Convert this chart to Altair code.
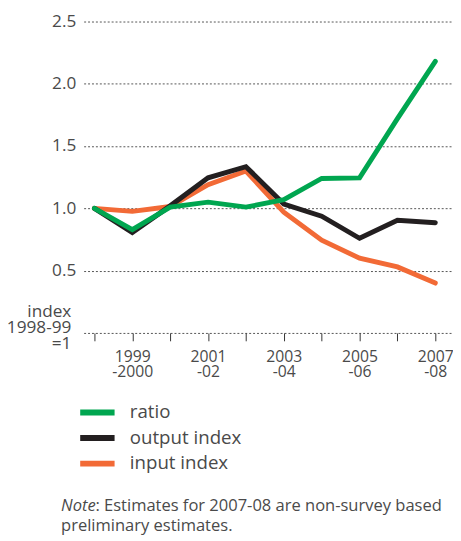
import altair as alt
import pandas as pd

years = ["1998-99", "1999-2000", "2000-01", "2001-02", "2002-03",
         "2003-04", "2004-05", "2005-06", "2006-07", "2007-08"]
ratio = [1.00, 0.83, 1.01, 1.05, 1.01, 1.07, 1.24, 1.245, 1.72, 2.18]
output_index = [1.00, 0.805, 1.02, 1.245, 1.335, 1.035, 0.937, 0.76, 0.905, 0.885]
input_index = [1.00, 0.976, 1.015, 1.19, 1.30, 0.97, 0.745, 0.60, 0.53, 0.40]

series_names = ["ratio", "output index", "input index"]
series_colors = ["#00A650", "#231F20", "#F26A36"]

tick_labels = {1: ["1999", "-2000"], 3: ["2001", "-02"], 5: ["2003", "-04"],
               7: ["2005", "-06"], 9: ["2007", "-08"]}
y_ticks = [0, 0.5, 1.0, 1.5, 2.0, 2.5]
zero_label = ["index", "1998-99", "=1"]

rows = []
for name, vals in zip(series_names, [ratio, output_index, input_index]):
    for i, (yr, v) in enumerate(zip(years, vals)):
        rows.append({"idx": i, "year": yr, "series": name, "value": v})
df = pd.DataFrame(rows)

FONT = "Open Sans"
TXT = "#4a4a4a"

x_expr = " : ".join(
    f"datum.value == {k} ? {v!r}" for k, v in tick_labels.items()
) + " : ''"
y_expr = f"datum.value == 0 ? {zero_label!r} : format(datum.value, '.1f')"

W, H = 376, 317

x_enc = alt.X("idx:Q", scale=alt.Scale(domain=[-0.285, 9.467], nice=False, zero=False),
              axis=alt.Axis(values=list(range(len(years))), labelExpr=x_expr,
                            grid=False, domain=False, tickSize=8, tickColor="#333",
                            tickWidth=1, labelFont=FONT, labelFontSize=16,
                            labelColor=TXT, labelPadding=8, labelLineHeight=15.5,
                            labelFlush=False, labelOverlap=False, title=None))
y_enc = alt.Y("value:Q", scale=alt.Scale(domain=[0, 2.5], nice=False),
              axis=alt.Axis(values=y_ticks, labelExpr=y_expr, grid=True,
                            gridDash=[2, 2], gridColor="#555", gridWidth=1,
                            domain=False, ticks=False, labelFont=FONT,
                            labelFontSize=17.5, labelColor=TXT, labelLineHeight=16.5,
                            labelPadding=alt.ConditionalAxisNumber(
                                condition={"test": "datum.value == 0", "value": 13},
                                value=8),
                            labelOffset=alt.ConditionalAxisNumber(
                                condition={"test": "datum.value == 0", "value": -22},
                                value=0),
                            title=None))
c_enc = alt.Color("series:N",
                  scale=alt.Scale(domain=series_names, range=series_colors),
                  legend=alt.Legend(title=None, orient="none", legendX=1,
                                    legendY=385, symbolType="M-1.75,0H1.75",
                                    symbolStrokeWidth=6, symbolSize=400,
                                    labelFont=FONT, labelFontSize=19,
                                    labelColor=TXT, labelOffset=20,
                                    rowPadding=1))

base = alt.Chart(df).mark_line(strokeWidth=5, strokeCap="round")
layers = [
    base.transform_filter(alt.datum.series == s).encode(x=x_enc, y=y_enc, color=c_enc)
    for s in ["input index", "output index", "ratio"]
]

NOTE_FS = 16.8
note_italic = alt.Chart(pd.DataFrame({"t": ["Note"]})).mark_text(
    font=FONT, fontSize=NOTE_FS, fontStyle="italic", color=TXT, align="left",
    baseline="middle").encode(text="t:N", x=alt.value(-23), y=alt.value(493))
note_rest = alt.Chart(pd.DataFrame({"t": [": Estimates for 2007-08 are non-survey based"]})).mark_text(
    font=FONT, fontSize=NOTE_FS, color=TXT, align="left",
    baseline="middle").encode(text="t:N", x=alt.value(12), y=alt.value(493))
note_line2 = alt.Chart(pd.DataFrame({"t": ["preliminary estimates."]})).mark_text(
    font=FONT, fontSize=NOTE_FS, color=TXT, align="left",
    baseline="middle").encode(text="t:N", x=alt.value(-23), y=alt.value(514))

chart = alt.layer(*layers, note_italic, note_rest, note_line2).properties(
    width=W, height=H,
    autosize=alt.AutoSizeParams(type="none"),
    padding={"left": 77, "top": 9, "right": 0, "bottom": 205},
).configure_view(stroke=None)

chart.save("out.html", embed_options={"renderer": "svg", "actions": False})
